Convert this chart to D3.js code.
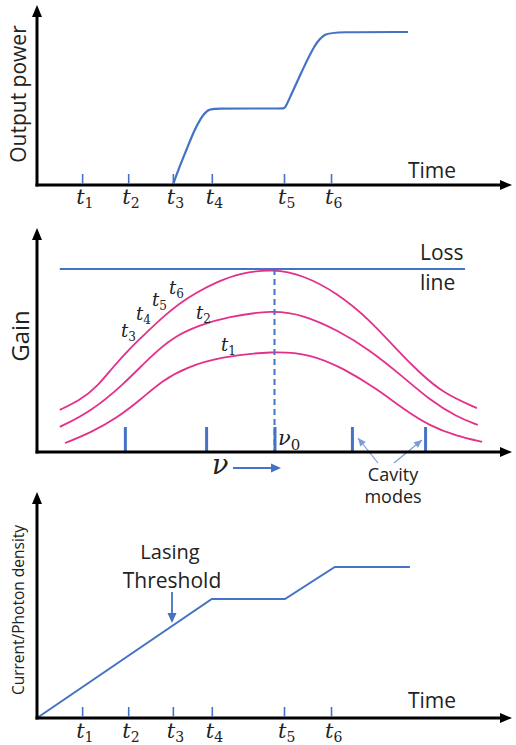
<!DOCTYPE html>
<html>
<head>
<meta charset="utf-8">
<script src="https://cdn.jsdelivr.net/npm/d3@7"></script>
<style>
  body { margin: 0; background: #fff; }
  svg { display: block; }
</style>
</head>
<body>
<svg id="chart"></svg>
<script>
// time ticks, shared by the top and bottom panels
const tickNames = ['1', '2', '3', '4', '5', '6']
const timeTicks = [0.95, 1.92, 2.86, 3.68, 5.2, 6.19]

// output power vs time
const powerTime = [2.86, 3.0, 3.16, 3.3, 3.45, 3.6, 3.75, 4.5, 5.17, 5.22, 5.3, 5.6, 5.85, 6.05, 6.3, 7.81]
const powerValue = [0, 1.2, 2.4, 3.5, 4.4, 4.95, 5, 5, 5, 5, 5.55, 7.6, 9.2, 9.9, 10, 10]

// gain curves vs frequency
const gainT1Freq = [5.9, 11.2, 16.8, 21.7, 26.5, 31.6, 38.5, 49.7, 57.5, 64.4, 71.6, 77.1, 82.7, 88.4, 93.7]
const gainT1 = [4.9, 10.4, 18.6, 28.4, 39.3, 46.4, 51.9, 55.2, 53.6, 45.9, 34.4, 23.5, 14.2, 8.7, 5.5]
const gainT2Freq = [4.8, 11.2, 18.1, 23.8, 28.6, 34.3, 40, 49.7, 56, 63.2, 70.1, 77.1, 82.7, 88.4, 92.8]
const gainT2 = [13.7, 21.9, 36.6, 51.9, 62.8, 69.4, 73.8, 77.6, 74.9, 66.7, 55.7, 41, 28.4, 19.1, 14.8]
const gainT3Freq = [4.8, 9.1, 12.6, 16, 19.6, 23.2, 26.5, 30.1, 33.7, 37.9, 42.7, 49.7, 56, 63.2, 70.1, 75.8, 80.6, 85.5, 92.6]
const gainT3 = [23, 28.4, 35.5, 46.4, 56.8, 65.6, 73.8, 81.4, 87.4, 92.9, 97.8, 100, 96.7, 86.9, 72.1, 55.7, 43.2, 32.2, 24]
const lossFreq = [4.8, 90.1]
const lossGain = [100, 100]
const modeFreq = [18.5, 35.6, 50, 66.3, 81.7]
const centerFreq = 50

// current / photon density vs time
const currentTime = [0, 3.68, 5.22, 6.27, 7.85]
const currentValue = [0, 7.88, 7.88, 10, 10]

const width = 516
const height = 745
const blue = '#4472c4'
const magenta = '#e3308a'
const sans = "'Open Sans', 'Noto Sans', sans-serif"
const serif = "'DejaVu Serif', serif"

const svg = d3.select('#chart').attr('width', width).attr('height', height)

const x = d3.scaleLinear().domain([0, 10]).range([37, 512])
const xf = d3.scaleLinear().domain([0, 100]).range([37, 512])
const yPower = d3.scaleLinear().domain([0, 10]).range([185, 32])
const yGain = d3.scaleLinear().domain([0, 100]).range([452, 269])
const yCurrent = d3.scaleLinear().domain([0, 10]).range([718, 567])

function arrowHead(g, tx, ty, dir, len, half, color) {
  // dir: 'up', 'right', 'down', or an angle in radians
  let a = dir === 'up' ? -Math.PI / 2 : dir === 'right' ? 0 : dir === 'down' ? Math.PI / 2 : dir
  const bx = tx - len * Math.cos(a), by = ty - len * Math.sin(a)
  const px = -Math.sin(a) * half, py = Math.cos(a) * half
  g.append('path')
    .attr('d', `M${tx},${ty}L${bx + px},${by + py}L${bx - px},${by - py}Z`)
    .attr('fill', color)
}

function drawFrame(y0, yTop) {
  const g = svg.append('g').attr('class', 'frame')
  g.append('line')
    .attr('x1', x(0)).attr('y1', y0 + 1.5)
    .attr('x2', x(0)).attr('y2', yTop + 8)
    .attr('stroke', '#000').attr('stroke-width', 3)
  g.append('line')
    .attr('x1', x(0) - 1.5).attr('y1', y0)
    .attr('x2', x.range()[1] - 8).attr('y2', y0)
    .attr('stroke', '#000').attr('stroke-width', 3)
  arrowHead(g, x(0), yTop, 'up', 12, 5, '#000')
  arrowHead(g, x.range()[1], y0, 'right', 12, 5, '#000')
}

function drawTimeTicks(y0, labelY) {
  const axis = d3.axisTop(x).tickValues(timeTicks).tickSize(10).tickFormat('')
  const g = svg.append('g').attr('transform', `translate(0,${y0 - 1})`).call(axis)
  g.select('.domain').remove()
  g.selectAll('.tick line').attr('stroke', blue).attr('stroke-width', 1.6)

  const labels = svg.append('g').attr('class', 'time-labels')
  timeTicks.forEach((t, i) => {
    const txt = labels.append('text')
      .attr('x', x(t) - 6)
      .attr('y', labelY)
      .attr('font-family', serif)
      .attr('font-style', 'italic')
      .attr('font-size', 21)
      .attr('fill', '#222')
    txt.append('tspan').text('t')
    txt.append('tspan').attr('dy', 4).attr('font-size', 14).attr('font-style', 'normal').text(tickNames[i])
  })
}

function subLabel(g, px, py, main, sub, size, subSize) {
  const txt = g.append('text')
    .attr('x', px).attr('y', py)
    .attr('font-family', serif)
    .attr('font-style', 'italic')
    .attr('font-size', size)
    .attr('fill', '#222')
  txt.append('tspan').text(main)
  if (sub) txt.append('tspan').attr('dy', size * 0.22).attr('font-size', subSize).attr('font-style', 'normal').text(sub)
}

function plainText(g, px, py, str, size, anchor) {
  return g.append('text')
    .attr('x', px).attr('y', py)
    .attr('font-family', sans)
    .attr('font-size', size)
    .attr('text-anchor', anchor || 'start')
    .attr('fill', '#222')
    .text(str)
}

function rotatedText(g, px, py, str, size) {
  return g.append('text')
    .attr('transform', `translate(${px},${py}) rotate(-90)`)
    .attr('font-family', sans)
    .attr('font-size', size)
    .attr('text-anchor', 'middle')
    .attr('fill', '#222')
    .text(str)
}

// ---------- top panel: output power ----------
const topPanel = svg.append('g').attr('class', 'top-panel')
drawFrame(185, 5)
drawTimeTicks(185, 204)

const powerLine = d3.line()
  .x(d => x(d[0]))
  .y(d => yPower(d[1]))
  .curve(d3.curveBasis)
topPanel.append('path')
  .datum(d3.zip(powerTime, powerValue))
  .attr('d', powerLine)
  .attr('fill', 'none')
  .attr('stroke', blue)
  .attr('stroke-width', 2.2)

rotatedText(topPanel, 26, 94, 'Output power', 21)
plainText(topPanel, 408, 178, 'Time', 21)

// ---------- middle panel: gain ----------
const midPanel = svg.append('g').attr('class', 'mid-panel')
drawFrame(452, 228)

const gainLine = d3.line()
  .x(d => xf(d[0]))
  .y(d => yGain(d[1]))
  .curve(d3.curveBasis)

;[[gainT1Freq, gainT1], [gainT2Freq, gainT2], [gainT3Freq, gainT3]].forEach(c => {
  midPanel.append('path')
    .datum(d3.zip(c[0], c[1]))
    .attr('d', gainLine)
    .attr('fill', 'none')
    .attr('stroke', magenta)
    .attr('stroke-width', 1.8)
})

midPanel.append('path')
  .datum(d3.zip(lossFreq, lossGain))
  .attr('d', d3.line().x(d => xf(d[0])).y(d => yGain(d[1])))
  .attr('stroke', blue)
  .attr('stroke-width', 1.8)

midPanel.append('line')
  .attr('x1', xf(centerFreq)).attr('x2', xf(centerFreq))
  .attr('y1', yGain(100)).attr('y2', yGain(0))
  .attr('stroke', blue)
  .attr('stroke-width', 2)
  .attr('stroke-dasharray', '6,4')

const modeAxis = d3.axisTop(xf).tickValues(modeFreq).tickSize(24).tickFormat('')
const modes = midPanel.append('g').attr('transform', `translate(0,${yGain(0) - 1})`).call(modeAxis)
modes.select('.domain').remove()
modes.selectAll('.tick line').attr('stroke', blue).attr('stroke-width', 3)

plainText(midPanel, 420, 260, 'Loss', 21)
plainText(midPanel, 420, 290, 'line', 21)
rotatedText(midPanel, 29, 336, 'Gain', 24)

subLabel(midPanel, 278, 445, 'ν', '0', 21, 15)
subLabel(midPanel, 212, 474, 'ν', '', 27, 0)
midPanel.append('line')
  .attr('x1', 233).attr('y1', 468).attr('x2', 272).attr('y2', 468)
  .attr('stroke', blue).attr('stroke-width', 1.8)
arrowHead(midPanel, 281, 468, 'right', 10, 4.5, blue)

const curveLabels = [
  ['3', 121, 337], ['4', 136, 320], ['5', 152, 306], ['6', 169, 294], ['2', 196, 319], ['1', 221, 351]
]
curveLabels.forEach(d => subLabel(midPanel, d[1], d[2], 't', d[0], 18, 12))

plainText(midPanel, 393, 481, 'Cavity', 18, 'middle')
plainText(midPanel, 393, 503, 'modes', 18, 'middle')
const modeArrow = '#7b9bd6'
;[[378, 463, 358, 438], [394, 463, 422, 440]].forEach(a => {
  midPanel.append('line')
    .attr('x1', a[0]).attr('y1', a[1]).attr('x2', a[2]).attr('y2', a[3])
    .attr('stroke', modeArrow).attr('stroke-width', 1.2)
  arrowHead(midPanel, a[2], a[3], Math.atan2(a[3] - a[1], a[2] - a[0]), 8, 3.5, modeArrow)
})

// ---------- bottom panel: current / photon density ----------
const botPanel = svg.append('g').attr('class', 'bottom-panel')
drawFrame(718, 492)
drawTimeTicks(718, 738)

botPanel.append('path')
  .datum(d3.zip(currentTime, currentValue))
  .attr('d', d3.line().x(d => x(d[0])).y(d => yCurrent(d[1])))
  .attr('fill', 'none')
  .attr('stroke', blue)
  .attr('stroke-width', 2)

rotatedText(botPanel, 24, 610, 'Current/Photon density', 15.5)
plainText(botPanel, 408, 708, 'Time', 21)
plainText(botPanel, 170, 559, 'Lasing', 20, 'middle')
plainText(botPanel, 172, 588, 'Threshold', 21, 'middle')
botPanel.append('line')
  .attr('x1', 172).attr('y1', 592).attr('x2', 172).attr('y2', 614)
  .attr('stroke', blue).attr('stroke-width', 1.8)
arrowHead(botPanel, 172, 623, 'down', 10, 4.5, blue)
</script>
</body>
</html>
